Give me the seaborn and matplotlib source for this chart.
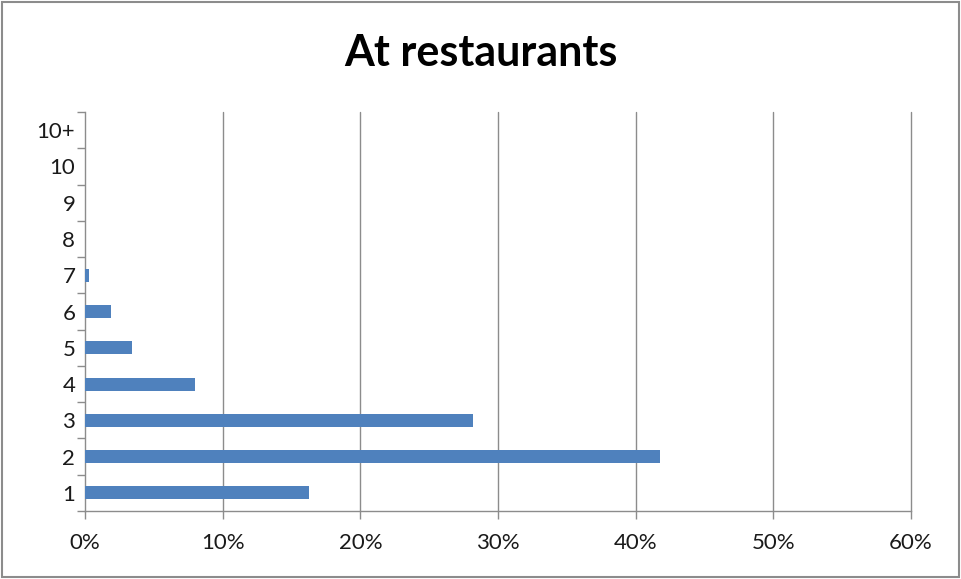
import numpy as np, pandas as pd
import matplotlib
matplotlib.use("Agg")
import matplotlib.pyplot as plt
import seaborn as sns
from matplotlib.ticker import FuncFormatter, FixedLocator
from matplotlib.patches import Rectangle

# data, listed from top row to bottom row
categories = ["10+", "10", "9", "8", "7", "6", "5", "4", "3", "2", "1"]
shares = [0.0, 0.0, 0.0, 0.0, 0.3, 1.9, 3.4, 8.0, 28.2, 41.8, 16.3]
x_ticks = [0, 10, 20, 30, 40, 50, 60]
title = "At restaurants"

sns.set_theme(style="white")
plt.rcParams['font.family'] = ['Lato', 'DejaVu Sans']

df = pd.DataFrame({"cat": categories, "share": shares})

fig = plt.figure(figsize=(9.62, 5.79), dpi=100)
fig.patch.set_facecolor('white')
ax = fig.add_axes([85/962, 1-511/579, (911-85)/962, (511-112)/579])

sns.barplot(data=df, x="share", y="cat", order=categories, orient="h",
            color="#4F81BD", saturation=1, width=0.36, linewidth=0, ax=ax, zorder=3)

ax.set_xlim(0, 60)
ax.set_ylim(len(categories)-0.5, -0.5)
ax.xaxis.set_major_locator(FixedLocator(x_ticks))
ax.xaxis.set_major_formatter(FuncFormatter(lambda v, p: f"{v:.0f}%"))
ax.set_xlabel(""); ax.set_ylabel("")

# vertical gridlines
for v in x_ticks[1:]:
    ax.axvline(v, color="#8c8c8c", linewidth=1.0, zorder=1, clip_on=False)

# category boundary ticks (Excel style)
ax.yaxis.set_minor_locator(FixedLocator(np.arange(-0.5, len(categories), 1.0)))
ax.tick_params(axis='y', which='major', length=0, pad=7, labelsize=16, labelcolor="#1a1a1a")
ax.tick_params(axis='y', which='minor', length=6, width=1.0, color="#8c8c8c", left=True)
ax.tick_params(axis='x', which='major', length=6, width=1.0, color="#8c8c8c", bottom=True,
               pad=10, labelsize=16, labelcolor="#1a1a1a")

for side in ['top', 'right']:
    ax.spines[side].set_visible(False)
for side in ['left', 'bottom']:
    ax.spines[side].set_color("#8c8c8c"); ax.spines[side].set_linewidth(1.0)

fig.text(481/962, 1-53/579, title, ha="center", va="center", fontsize=31,
         fontweight="bold", color="black")

# outer chart frame
fig.patches.append(Rectangle((0.002, 0.003), 0.995, 0.994, transform=fig.transFigure,
                             fill=False, edgecolor="#8c8c8c", linewidth=1.5))

fig.savefig("out.png", dpi=100, facecolor="white")
